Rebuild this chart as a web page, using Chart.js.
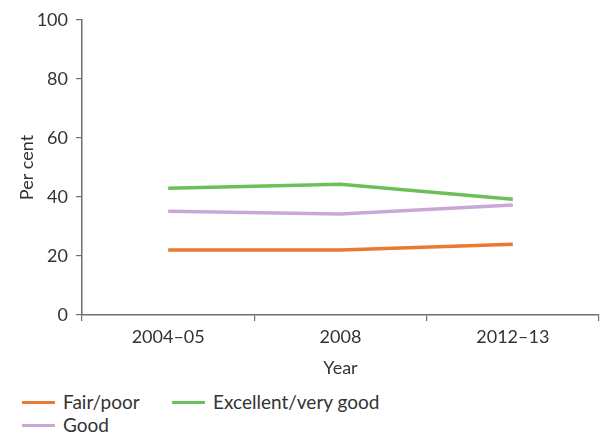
<!DOCTYPE html>
<html>
<head>
<meta charset="utf-8">
<script src="https://cdn.jsdelivr.net/npm/chart.js@4/dist/chart.umd.min.js"></script>
<style>
  html, body { margin: 0; padding: 0; background: #fff; }
  #wrap { position: relative; width: 600px; height: 433px; overflow: hidden; }
  #c { position: absolute; left: 0; top: 0; }
  .lg { position: absolute; font-family: Lato, "Open Sans", sans-serif; font-size: 19px; color: #333; white-space: nowrap; line-height: 22px; }
  .lg .sw { position: absolute; left: 0; top: 10px; width: 33px; height: 3px; }
  .lg .tx { position: absolute; left: 41px; top: 0; }
</style>
</head>
<body>
<div id="wrap">
  <canvas id="c" width="600" height="380"></canvas>
  <div id="legend"></div>
</div>
<script>
const categories = ["2004\u201305", "2008", "2012\u201313"];
const fairPoor = [22, 22, 24];
const good = [35.2, 34.2, 37.3];
const excellentVeryGood = [43, 44.3, 39.2];
const seriesNames = ["Fair/poor", "Excellent/very good", "Good"];
const yTicks = [0, 20, 40, 60, 80, 100];

const colors = { fair: "#EB7A30", exc: "#6CC05A", good: "#C9A8D5" };
const FONT = "Lato, 'Open Sans', sans-serif";
const TXT = "#333333";
const AX = "#6f6f6f";

Chart.defaults.font.family = FONT;
Chart.defaults.font.size = 18;
Chart.defaults.color = TXT;

new Chart(document.getElementById("c"), {
  type: "line",
  data: {
    labels: categories,
    datasets: [
      { label: seriesNames[0], data: fairPoor, borderColor: colors.fair, backgroundColor: colors.fair },
      { label: seriesNames[1], data: excellentVeryGood, borderColor: colors.exc, backgroundColor: colors.exc },
      { label: seriesNames[2], data: good, borderColor: colors.good, backgroundColor: colors.good }
    ].map(d => Object.assign(d, { borderWidth: 3.5, pointRadius: 0, pointHoverRadius: 0, tension: 0, fill: false }))
  },
  options: {
    responsive: false,
    animation: false,
    events: [],
    layout: { padding: { top: 20, right: 1, left: 0, bottom: 0 } },
    plugins: { legend: { display: false }, tooltip: { enabled: false } },
    scales: {
      x: {
        offset: true,
        grid: { offset: true, drawOnChartArea: false, drawTicks: true, tickLength: 6, color: AX, lineWidth: 1.2 },
        border: { color: AX, width: 1.5 },
        ticks: { padding: 5, color: TXT, font: { size: 18 } },
        title: { display: true, text: "Year", color: TXT, font: { size: 18 }, padding: { top: 0, bottom: 1 } },
        afterFit: s => { s.height = 65; }
      },
      y: {
        min: 0, max: 100,
        afterBuildTicks: s => { s.ticks = yTicks.map(v => ({ value: v })); },
        grid: { drawOnChartArea: false, drawTicks: true, tickLength: 6, color: AX, lineWidth: 1.2 },
        border: { color: AX, width: 1.5 },
        ticks: { padding: 8, color: TXT, font: { size: 18 } },
        title: { display: true, text: "Per cent", color: TXT, font: { size: 18 }, padding: { top: 16, bottom: 0 } },
        afterFit: s => { s.width = 82; }
      }
    }
  }
});

// HTML legend built from series names
const legendItems = [
  { name: seriesNames[0], color: colors.fair, x: 22, y: 391 },
  { name: seriesNames[1], color: colors.exc, x: 172, y: 391 },
  { name: seriesNames[2], color: colors.good, x: 22, y: 414 }
];
const lg = document.getElementById("legend");
legendItems.forEach(it => {
  const d = document.createElement("div");
  d.className = "lg";
  d.style.left = it.x + "px";
  d.style.top = it.y + "px";
  const sw = document.createElement("span");
  sw.className = "sw";
  sw.style.background = it.color;
  const tx = document.createElement("span");
  tx.className = "tx";
  tx.textContent = it.name;
  d.appendChild(sw); d.appendChild(tx);
  lg.appendChild(d);
});
</script>
</body>
</html>
